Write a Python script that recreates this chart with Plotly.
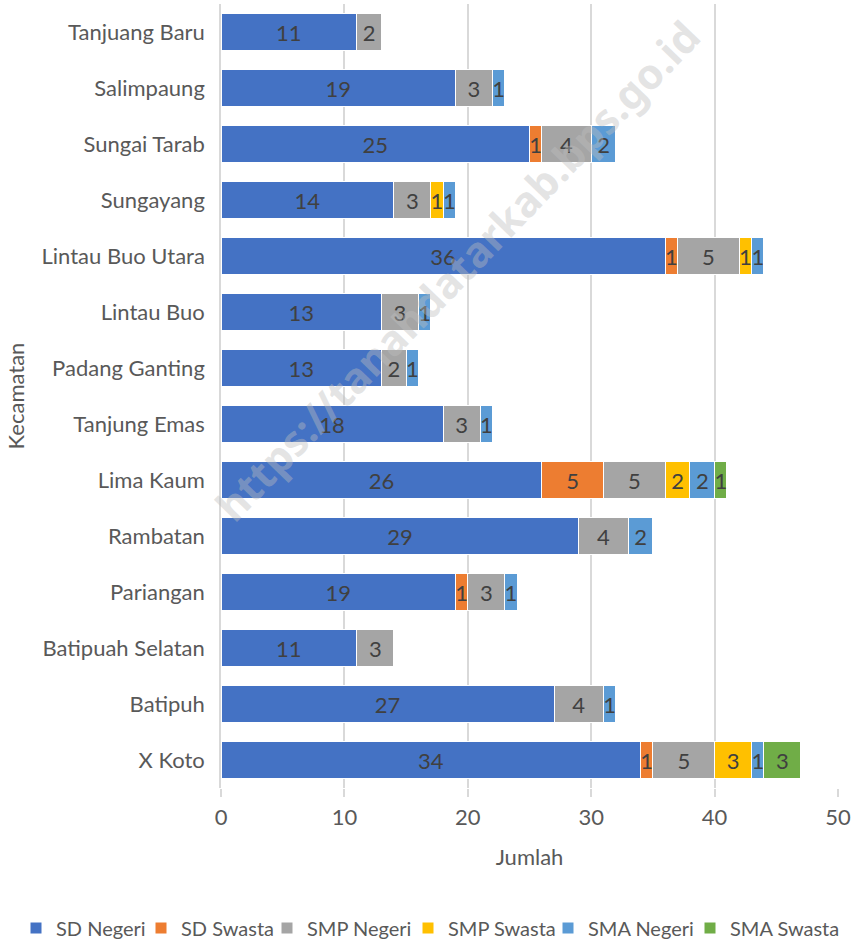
import plotly.graph_objects as go

kecamatan = ["X Koto", "Batipuh", "Batipuah Selatan", "Pariangan", "Rambatan", "Lima Kaum",
             "Tanjung Emas", "Padang Ganting", "Lintau Buo", "Lintau Buo Utara", "Sungayang",
             "Sungai Tarab", "Salimpaung", "Tanjuang Baru"]
sd_negeri  = [34, 27, 11, 19, 29, 26, 18, 13, 13, 36, 14, 25, 19, 11]
sd_swasta  = [1, 0, 0, 1, 0, 5, 0, 0, 0, 1, 0, 1, 0, 0]
smp_negeri = [5, 4, 3, 3, 4, 5, 3, 2, 3, 5, 3, 4, 3, 2]
smp_swasta = [3, 0, 0, 0, 0, 2, 0, 0, 0, 1, 1, 0, 0, 0]
sma_negeri = [1, 1, 0, 1, 2, 2, 1, 1, 1, 1, 1, 2, 1, 0]
sma_swasta = [3, 0, 0, 0, 0, 1, 0, 0, 0, 0, 0, 0, 0, 0]

series = [
    ("SD Negeri", sd_negeri, "#4472C4", 80),
    ("SD Swasta", sd_swasta, "#ED7D31", 81),
    ("SMP Negeri", smp_negeri, "#A5A5A5", 96),
    ("SMP Swasta", smp_swasta, "#FFC000", 95),
    ("SMA Negeri", sma_negeri, "#5B9BD5", 97),
    ("SMA Swasta", sma_swasta, "#70AD47", 105),
]

FONT = "Lato"
FS = 22
fig = go.Figure()
for name, vals, color, lw in series:
    fig.add_trace(go.Bar(
        y=kecamatan, x=vals, name=name, orientation="h",
        marker=dict(color=color, line=dict(color="white", width=1)),
        text=[str(v) if v else "" for v in vals],
        textposition="inside", insidetextanchor="middle", constraintext="none",
        textfont=dict(family=FONT, size=FS, color="#404040"),
        textangle=0, legendwidth=lw,
        hoverinfo="x+y+name",
    ))

fig.add_annotation(
    text="https://tanahdatarkab.bps.go.id", xref="paper", yref="paper",
    x=0.382, y=0.66, showarrow=False, textangle=-46,
    font=dict(family="Noto Sans", size=42, color="rgba(190,190,190,0.42)", weight="bold"),
)

fig.update_layout(
    barmode="stack", bargap=0.34,
    width=857, height=941,
    margin=dict(l=221, r=19, t=4, b=153, autoexpand=False),
    plot_bgcolor="white", paper_bgcolor="white",
    font=dict(family=FONT, size=FS, color="#595959"),
    xaxis=dict(range=[0, 50], dtick=10, showgrid=True, gridcolor="#D9D9D9", gridwidth=1.5,
               zeroline=False, ticks="outside", ticklen=8, tickcolor="#D9D9D9", tickwidth=1.5,
               ticklabelstandoff=2,
               tickfont=dict(size=FS, color="#595959"),
               title=dict(text="Jumlah", font=dict(size=FS, color="#595959"), standoff=20)),
    yaxis=dict(showline=True, linecolor="#D9D9D9", linewidth=1.5, ticks="", ticklabelstandoff=10,
               tickfont=dict(size=FS, color="#595959"),
               title=dict(text="Kecamatan", font=dict(size=FS, color="#595959"), standoff=11)),
    legend=dict(orientation="h", xref="paper", yref="paper", x=(16 - 221) / 617, xanchor="left",
                y=-(928 - 788) / 784, yanchor="middle", font=dict(size=20, color="#595959"),
                traceorder="normal", itemwidth=30),
)

fig.write_html("out.html", post_script="document.body.style.margin='0';",
               config={"displayModeBar": False})
